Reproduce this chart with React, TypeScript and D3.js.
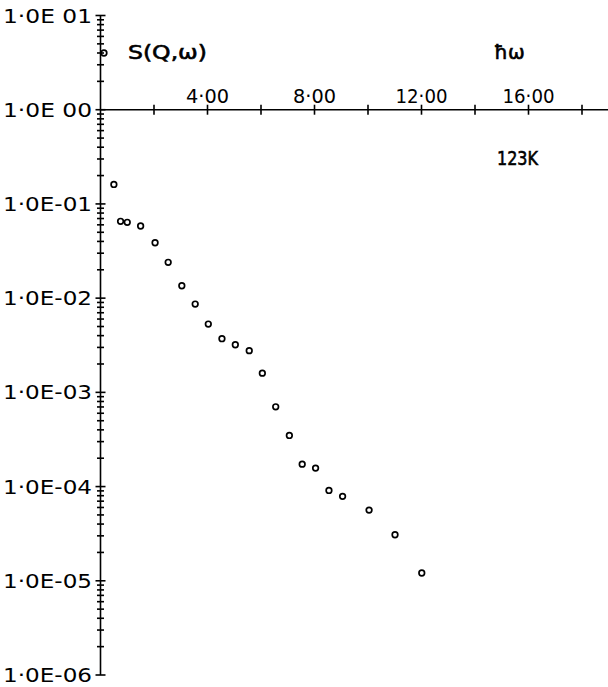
import React from "react";
import * as d3 from "d3";

const energy = [0.13, 0.5, 0.75, 1.0, 1.5, 2.04, 2.53, 3.04, 3.54, 4.03, 4.54, 5.04, 5.56, 6.05, 6.55, 7.06, 7.54, 8.04, 8.54, 9.05, 10.04, 11.01, 12.01];
const sqw = [4.0, 0.161, 0.0654, 0.0638, 0.0583, 0.0387, 0.024, 0.01354, 0.00866, 0.00531, 0.00371, 0.0032, 0.00277, 0.0016, 7.03e-4, 3.49e-4, 1.73e-4, 1.57e-4, 9.1e-5, 7.87e-5, 5.63e-5, 3.08e-5, 1.21e-5];
const xTickValues = [2, 4, 6, 8, 10, 12, 14, 16, 18];
const xLabelValues = [4, 8, 12, 16];
const decades = [10, 1, 0.1, 0.01, 0.001, 0.0001, 0.00001, 0.000001];
const decadeLabels = ["1·0E 01", "1·0E 00", "1·0E-01", "1·0E-02", "1·0E-03", "1·0E-04", "1·0E-05", "1·0E-06"];

export default function App() {
  const W = 608, H = 687;
  const x = d3.scaleLinear().domain([0, 19]).range([100.5, 100.5 + 19 * 26.75]);
  const y = d3.scaleLog().domain([1e-6, 10]).range([675, 15.5]);
  const minor: number[] = [];
  for (let e = -6; e < 1; e++) for (let m = 2; m <= 9; m++) minor.push(m * Math.pow(10, e));
  const x0 = x(0);
  const yAxisY = y(1);
  const font = "'DejaVu Sans', sans-serif";
  return (
    <svg width={W} height={H} style={{ position: "absolute", left: 0, top: 0, background: "#fff" }}>
      <rect width={W} height={H} fill="#fff" />
      <g stroke="#000" strokeWidth={1.6} fill="none">
        <line x1={x0} x2={x0} y1={y(10)} y2={y(1e-6)} />
        <line x1={x0} x2={W} y1={yAxisY} y2={yAxisY} />
        {decades.map((d, i) => (
          <line key={"d" + i} x1={x0 - 5} x2={x0 + 5} y1={y(d)} y2={y(d)} />
        ))}
        {minor.map((d, i) => (
          <line key={"m" + i} x1={x0 - 3.5} x2={x0 + 3.5} y1={y(d)} y2={y(d)} />
        ))}
        {xTickValues.map((v, i) => (
          <line key={"x" + i} x1={x(v)} x2={x(v)} y1={yAxisY - 5} y2={yAxisY + 5} />
        ))}
        {energy.map((e, i) => (
          <circle key={"p" + i} cx={x(e)} cy={y(sqw[i])} r={2.8} strokeWidth={1.7} />
        ))}
      </g>
      <g fontFamily={font} fill="#000">
        {decades.map((d, i) => (
          <text key={"t" + i} x={92} y={y(d) + 7} fontSize={20} textLength={89} lengthAdjust="spacingAndGlyphs" textAnchor="end">
            {decadeLabels[i]}
          </text>
        ))}
        {xLabelValues.map((v, i) => (
          <text key={"xl" + i} x={x(v)} y={103} fontSize={20} textAnchor="middle" textLength={v >= 10 ? 52 : 43} lengthAdjust="spacingAndGlyphs">
            {d3.format(".2f")(v).replace(".", "·")}
          </text>
        ))}
        <g stroke="#000" strokeWidth={0.6}>
          <text x={128} y={59} fontSize={20} textLength={79} lengthAdjust="spacingAndGlyphs">S(Q,ω)</text>
          <text x={494} y={59} fontSize={20}>ħω</text>
          <text x={497} y={165} fontSize={19} textLength={41} lengthAdjust="spacingAndGlyphs">123K</text>
        </g>
      </g>
    </svg>
  );
}
